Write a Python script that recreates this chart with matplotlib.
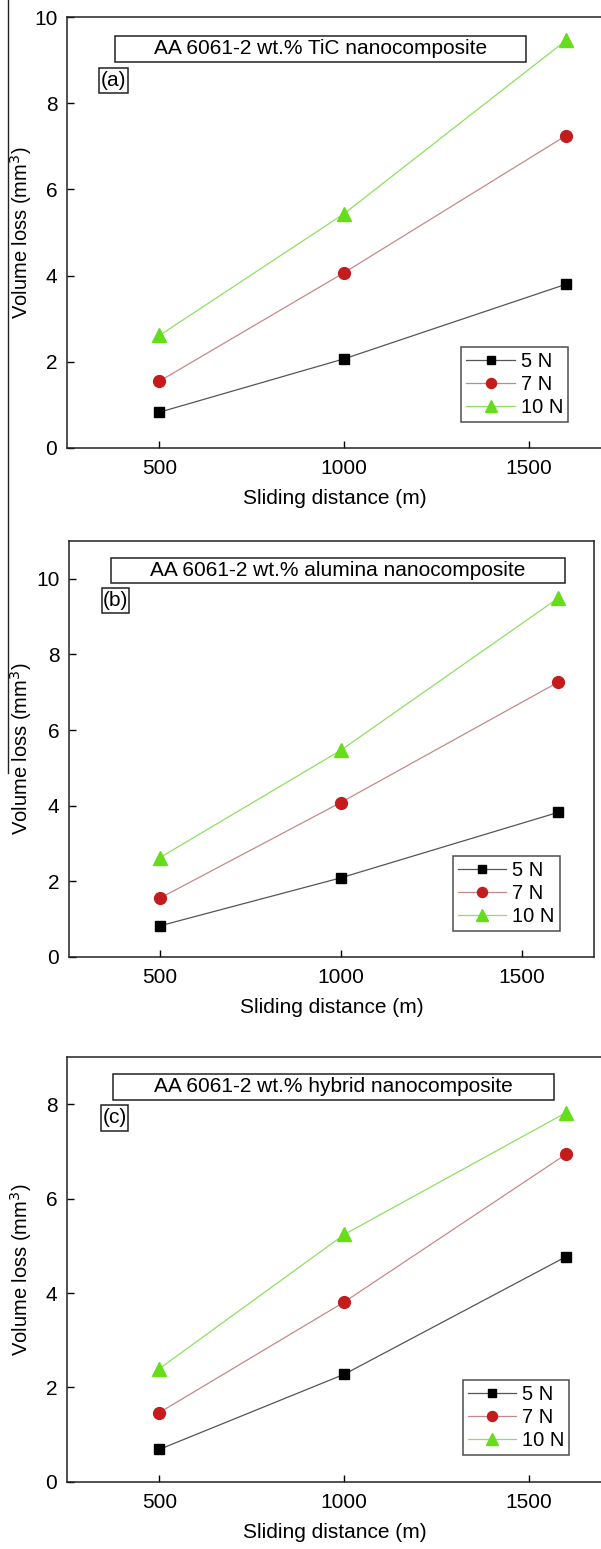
import numpy as np
import matplotlib
matplotlib.use("Agg")
import matplotlib.pyplot as plt
from matplotlib.patches import Rectangle
from matplotlib.lines import Line2D
from matplotlib.transforms import blended_transform_factory

plt.rcParams['font.family'] = ['Liberation Sans', 'DejaVu Sans']
plt.rcParams['font.size'] = 15

# Sliding distance (m)
distance = [500, 1000, 1600]
loads = ["5 N", "7 N", "10 N"]

# Volume loss (mm^3) for each composite, one list per load
tic_5n = [0.83, 2.07, 3.80]
tic_7n = [1.55, 4.07, 7.25]
tic_10n = [2.61, 5.44, 9.46]

alumina_5n = [0.82, 2.09, 3.82]
alumina_7n = [1.55, 4.08, 7.26]
alumina_10n = [2.62, 5.46, 9.48]

hybrid_5n = [0.69, 2.28, 4.77]
hybrid_7n = [1.47, 3.81, 6.94]
hybrid_10n = [2.40, 5.24, 7.82]

titles = ["AA 6061-2 wt.% TiC nanocomposite",
          "AA 6061-2 wt.% alumina nanocomposite",
          "AA 6061-2 wt.% hybrid nanocomposite"]
tags = ["(a)", "(b)", "(c)"]
ymax = [10, 11, 9]
yticks = [np.arange(0, 11, 2), np.arange(0, 11, 2), np.arange(0, 9, 2)]

data = [[tic_5n, tic_7n, tic_10n],
        [alumina_5n, alumina_7n, alumina_10n],
        [hybrid_5n, hybrid_7n, hybrid_10n]]

# marker style / marker colour / line colour per load
markers = ['s', 'o', '^']
msizes = [7, 8.5, 10]
mcolors = ['#000000', '#c41c1c', '#66dd1a']
lcolors = ['#555555', '#c48a8a', '#8ee060']

# axes rectangles in figure fractions
positions = [[0.1115, 0.7108, 0.892, 0.2782],
             [0.1148, 0.3822, 0.8735, 0.2686],
             [0.1115, 0.0433, 0.892, 0.2744]]
# title box [x0, y0, x1, y1] and tag box, in axes fractions
title_boxes = [[0.0896, 0.896, 0.856, 0.956],
               [0.080, 0.899, 0.945, 0.959],
               [0.0858, 0.899, 0.909, 0.960]]
tag_boxes = [[0.0597, 0.824, 0.1138, 0.882],
             [0.062, 0.827, 0.115, 0.887],
             [0.063, 0.826, 0.114, 0.887]]
legend_anchor = [(0.935, 0.06), (0.935, 0.0625), (0.937, 0.0635)]

fig = plt.figure(figsize=(6.01, 15.49), dpi=100)

for i in range(3):
    ax = fig.add_axes(positions[i])
    for j in range(3):
        ax.plot(distance, data[i][j], color=lcolors[j], lw=0.9,
                marker=markers[j], ms=msizes[j], mfc=mcolors[j],
                mec=mcolors[j], label=loads[j])
    ax.set_xlim(250, 1700)
    ax.set_ylim(0, ymax[i])
    ax.set_xticks([500, 1000, 1500])
    ax.set_yticks(yticks[i])
    ax.tick_params(direction='in', length=5, width=1, labelsize=15)
    ax.tick_params(axis='x', pad=8)
    ax.tick_params(axis='y', pad=7)
    for s in ax.spines.values():
        s.set_linewidth(1.1)
        s.set_color('#222222')
    ax.set_xlabel("Sliding distance (m)", fontsize=15, labelpad=8)
    ax.set_ylabel("Volume loss (mm$^3$)", fontsize=14.5)
    # keep the y label just right of the stray rule
    ax.yaxis.set_label_coords(
        34 / 601, 0.5, transform=blended_transform_factory(fig.transFigure, ax.transAxes))

    # title box
    x0, y0, x1, y1 = title_boxes[i]
    ax.add_patch(Rectangle((x0, y0), x1 - x0, y1 - y0, transform=ax.transAxes,
                           fill=False, ec='#222222', lw=1.1))
    ax.text((x0 + x1) / 2, (y0 + y1) / 2, titles[i], transform=ax.transAxes,
            ha='center', va='center', fontsize=15)
    # panel tag
    x0, y0, x1, y1 = tag_boxes[i]
    ax.add_patch(Rectangle((x0, y0), x1 - x0, y1 - y0, transform=ax.transAxes,
                           fill=False, ec='#222222', lw=1.1))
    ax.text((x0 + x1) / 2, (y0 + y1) / 2, tags[i], transform=ax.transAxes,
            ha='center', va='center', fontsize=15)

    leg = ax.legend(loc='lower right', bbox_to_anchor=legend_anchor[i],
                    fontsize=14.5, frameon=True, fancybox=False,
                    handlelength=2.4, handletextpad=0.3, labelspacing=0.2,
                    borderpad=0.25, borderaxespad=0, markerscale=0.85)
    leg.get_frame().set_edgecolor('#222222')
    leg.get_frame().set_linewidth(1.1)

# stray vertical rule at the left edge of the original page
fig.add_artist(Line2D([0.0141, 0.0141], [1.0, 0.501], color='#222222', lw=1.0,
                      transform=fig.transFigure))

fig.savefig("out.png", dpi=100)
